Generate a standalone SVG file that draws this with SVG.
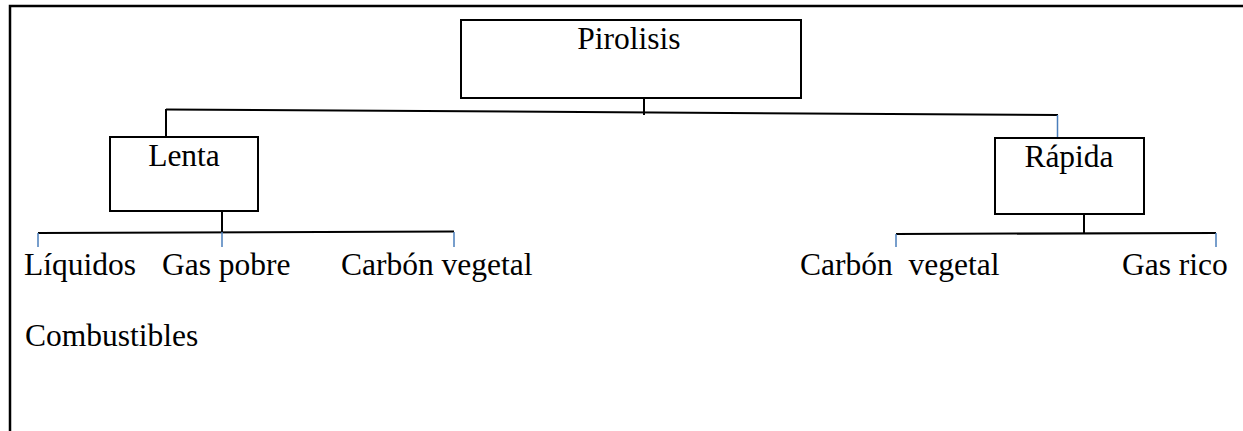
<svg xmlns="http://www.w3.org/2000/svg" width="1243" height="431" viewBox="0 0 1243 431">
<style>
.box{fill:#fff;stroke:#000;stroke-width:2}
.lbl{font-family:"Liberation Serif","Times New Roman",serif;font-size:31.5px;fill:#000}
.ln{stroke:#000;stroke-width:2;fill:none}
.bl{stroke:#4a7ebb;stroke-width:1.5;fill:none}
</style>
<rect x="0" y="0" width="1243" height="431" fill="#fff"/>
<rect x="10" y="6" width="1250" height="440" fill="none" stroke="#000" stroke-width="2.5"/>
<g id="connectors">
<line class="ln" x1="166" y1="109.5" x2="1058" y2="115"/>
<line class="ln" x1="166" y1="109" x2="166" y2="137"/>
<line class="ln" x1="644" y1="94" x2="644" y2="115"/>
<line class="bl" x1="1057.5" y1="115" x2="1057.5" y2="138"/>
<line class="ln" x1="222" y1="209" x2="222" y2="232"/>
<line class="ln" x1="38" y1="233" x2="454" y2="231.5"/>
<line class="bl" x1="38" y1="233" x2="38" y2="247"/>
<line class="bl" x1="222" y1="232" x2="222" y2="247"/>
<line class="bl" x1="454" y1="232" x2="454" y2="247"/>
<line class="ln" x1="1084" y1="209" x2="1084" y2="233"/>
<line class="ln" x1="896" y1="234" x2="1216" y2="233"/>
<line class="bl" x1="896" y1="234" x2="896" y2="247"/>
<line class="bl" x1="1216" y1="233" x2="1216" y2="247"/>
</g>
<g id="pirolisis">
<rect class="box" x="461" y="20" width="340" height="78"/>
<text class="lbl" x="629" y="49" text-anchor="middle">Pirolisis</text>
</g>
<g id="lenta">
<rect class="box" x="110" y="137" width="148" height="74"/>
<text class="lbl" x="184" y="166" text-anchor="middle">Lenta</text>
</g>
<g id="rapida">
<rect class="box" x="995" y="138" width="149" height="76"/>
<text class="lbl" x="1069" y="167" text-anchor="middle">Rápida</text>
</g>
<g id="liquidos"><text class="lbl" x="24" y="275">Líquidos</text></g>
<g id="gaspobre"><text class="lbl" x="162" y="275">Gas pobre</text></g>
<g id="carbon1"><text class="lbl" x="341" y="275">Carbón vegetal</text></g>
<g id="carbon2"><text class="lbl" x="800" y="275" xml:space="preserve">Carbón  vegetal</text></g>
<g id="gasrico"><text class="lbl" x="1122" y="275">Gas rico</text></g>
<g id="combustibles"><text class="lbl" x="25" y="346">Combustibles</text></g>
</svg>
